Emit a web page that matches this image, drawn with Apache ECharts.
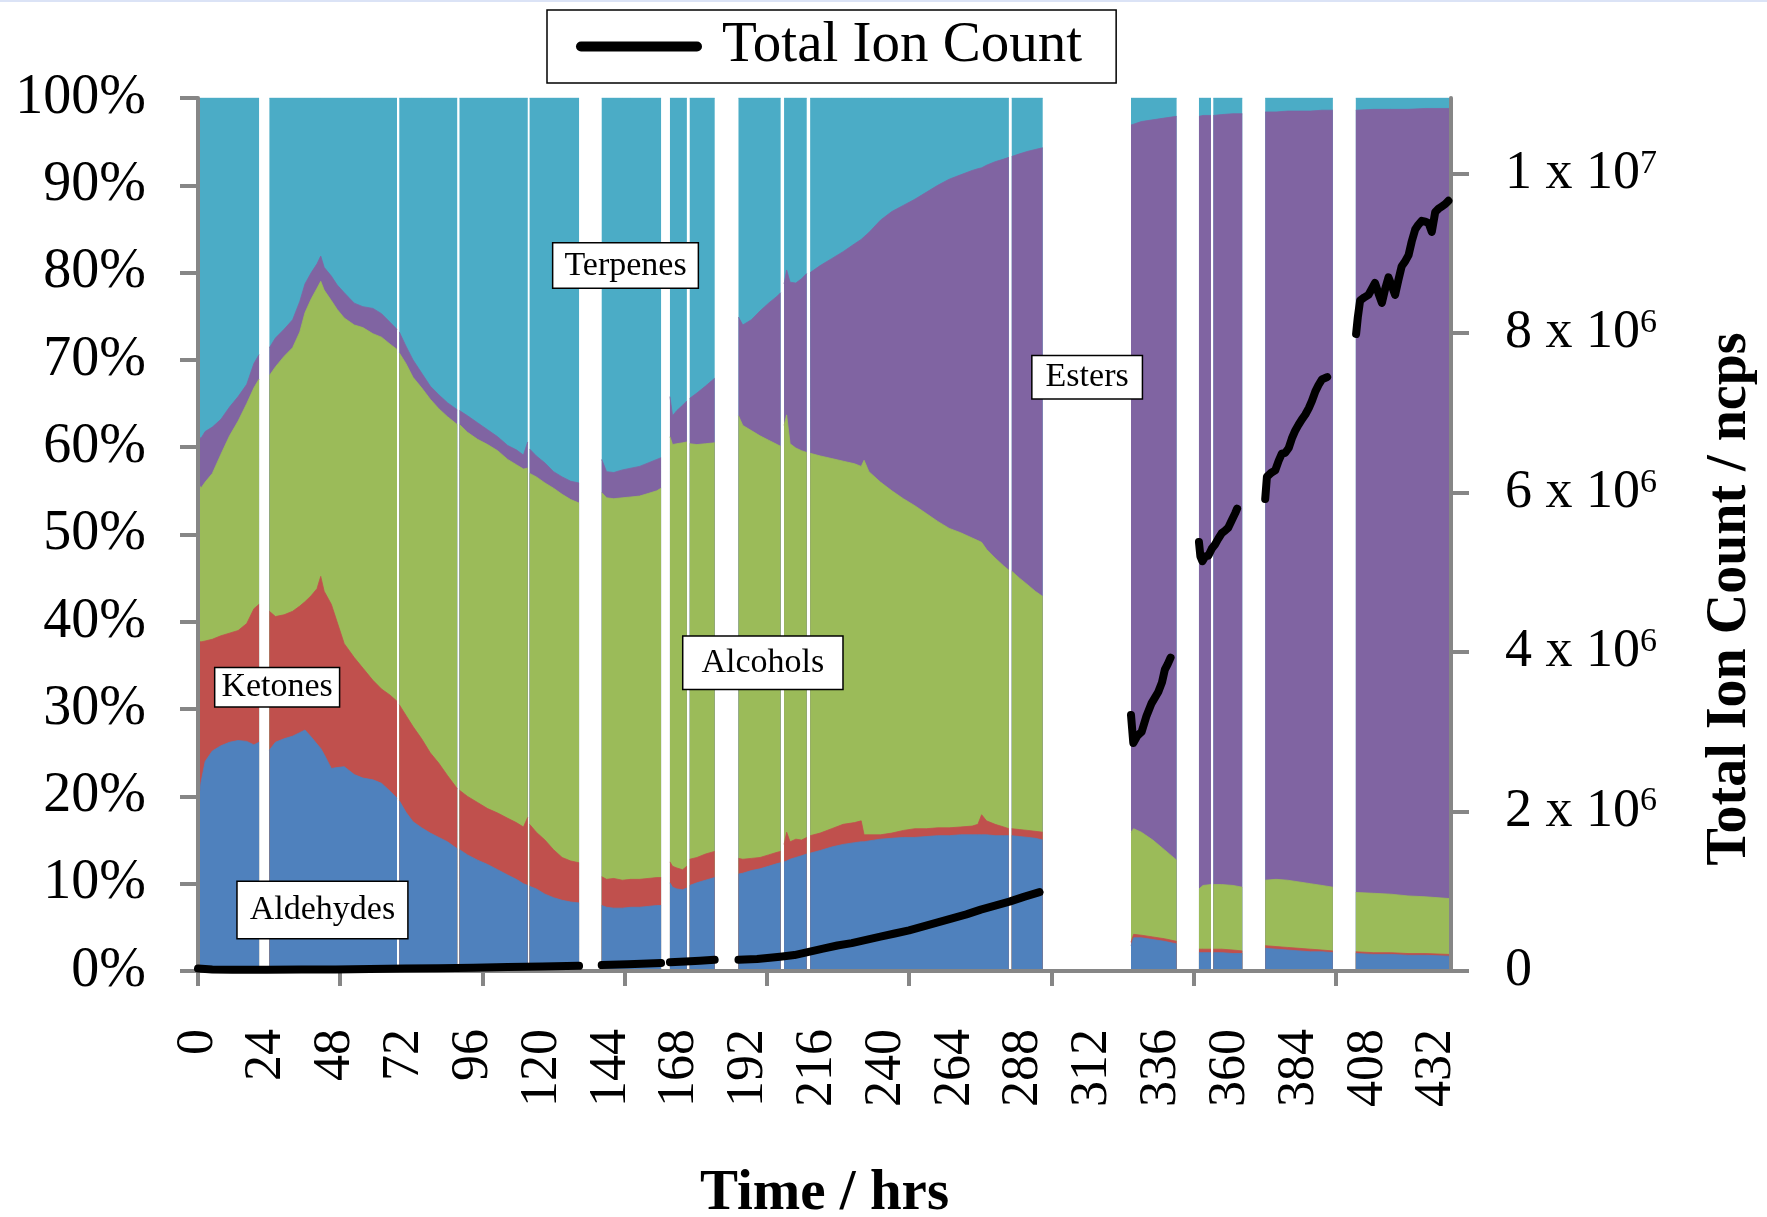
<!DOCTYPE html>
<html>
<head>
<meta charset="utf-8">
<script src="https://cdn.jsdelivr.net/npm/echarts@6/dist/echarts.min.js"></script>
<style>
  html, body { margin: 0; padding: 0; background: #fff; }
  #chart { width: 1767px; height: 1217px; }
</style>
</head>
<body>
<div id="chart"></div>
<script>
// Sampling times (hours). A null entry between two runs marks missing data.
const hours = [
  0, 1, 2.5, 5, 8, 11, 14, 17, 19.5, 21.3, 23.1,
  24.9, 27, 30, 33, 35.5, 37.3, 39.5, 41.5, 42.8, 44, 46.5, 48.5, 51, 54.5, 57.5, 61, 64, 67, 69.4, 69.8,
  70.2, 72.5, 75, 78, 81, 84, 87, 90.4, 90.8,
  91.2, 94, 97.5, 101, 104.5, 108, 111, 113.5, 115, 115.3,
  115.65, 118, 121, 124, 127, 130, 132.9, 137,
  140.8, 142.5, 145, 148, 151, 154, 157, 160, 161.5, 163.1,
  164.6, 165.5, 167, 169, 170.5, 171,
  171.5, 174, 177, 180.2, 184.4,
  188.5, 190, 193, 196, 199, 202, 203.2, 203.8,
  204.4, 205.3, 206.5, 208.5, 210.5, 212.3, 212.9,
  213.5, 217, 221, 225, 229, 231.3, 232.3, 234, 238, 242, 246, 250, 254, 258, 262, 266, 270, 272, 273.3, 275, 278, 281, 282.8, 283.3,
  283.8, 286.5, 289.5, 292, 294.6, 310,
  325.4, 326.3, 329, 333, 337, 341.3, 345,
  349.1, 350.5, 353.3, 353.7,
  354.1, 357, 361, 364.2, 368,
  372.2, 376, 380, 384, 388, 392, 395.8, 400,
  403.8, 410, 416, 422, 428, 436.3
];

// Share of each compound class (% of total), same order as hours.
const aldehydes = [
  18.3, 21.5, 24.0, 25.2, 25.8, 26.2, 26.4, 26.3, 25.9, 26.2, null,
  25.3, 26.2, 26.6, 26.9, 27.3, 27.6, 26.8, 26.0, 25.5, 24.8, 23.2, 23.3, 23.4, 22.5, 22.1, 21.9, 21.5, 20.6, 19.8, null,
  19.5, 18.2, 17.1, 16.4, 15.8, 15.3, 14.8, 14.0, null,
  13.9, 13.3, 12.7, 12.2, 11.6, 11.0, 10.5, 10.0, 9.8, null,
  9.7, 9.4, 8.8, 8.4, 8.1, 7.9, 7.8, null,
  7.5, 7.3, 7.2, 7.2, 7.3, 7.3, 7.4, 7.5, 7.5, null,
  10.1, 9.6, 9.4, 9.3, 9.5, null,
  9.8, 10.1, 10.4, 10.7, null,
  11.1, 11.2, 11.5, 11.7, 12.0, 12.3, 12.4, null,
  12.5, 12.6, 12.8, 13.0, 13.2, 13.4, null,
  13.5, 13.8, 14.2, 14.5, 14.7, 14.8, 14.8, 14.9, 15.1, 15.2, 15.3, 15.3, 15.4, 15.5, 15.5, 15.6, 15.6, 15.6, 15.6, 15.6, 15.5, 15.5, 15.5, null,
  15.5, 15.4, 15.3, 15.2, 15.0, null,
  2.9, 3.8, 3.8, 3.6, 3.4, 3.1, null,
  2.1, 2.1, 2.1, null,
  2.1, 2.1, 2.0, 2.0, null,
  2.6, 2.5, 2.4, 2.3, 2.2, 2.2, 2.1, null,
  2.0, 1.9, 1.9, 1.8, 1.8, 1.7
];
const ketones = [
  19.6, 16.2, 13.8, 12.8, 12.6, 12.5, 12.6, 13.5, 15.6, 15.8, null,
  15.9, 14.4, 14.2, 14.3, 14.5, 14.7, 16.2, 17.8, 19.7, 18.7, 18.8, 16.7, 14.1, 13.4, 12.6, 11.4, 10.8, 11.0, 11.1, null,
  11.0, 11.1, 10.9, 10.2, 9.2, 8.5, 7.6, 6.9, null,
  6.8, 6.7, 6.6, 6.4, 6.5, 6.5, 6.5, 6.5, 7.8, null,
  7.1, 6.5, 6.2, 5.5, 4.9, 4.7, 4.6, null,
  3.3, 3.2, 3.4, 3.2, 3.2, 3.2, 3.2, 3.2, 3.2, null,
  2.4, 2.4, 2.4, 2.3, 2.5, null,
  3.0, 2.9, 3.0, 3.0, null,
  1.8, 1.6, 1.4, 1.3, 1.3, 1.3, 1.3, null,
  2.0, 3.3, 2.0, 2.1, 1.8, 1.9, null,
  2.0, 2.0, 2.1, 2.3, 2.3, 2.4, 0.8, 0.7, 0.5, 0.6, 0.8, 1.0, 0.9, 0.9, 0.9, 0.9, 1.0, 1.2, 2.3, 1.6, 1.3, 1.0, 0.8, null,
  0.8, 0.8, 0.8, 0.8, 0.9, null,
  0.4, 0.4, 0.3, 0.3, 0.3, 0.3, null,
  0.4, 0.4, 0.4, null,
  0.4, 0.4, 0.4, 0.3, null,
  0.3, 0.3, 0.3, 0.3, 0.3, 0.2, 0.2, null,
  0.2, 0.2, 0.2, 0.2, 0.2, 0.2
];
const alcohols = [
  18.1, 17.6, 18.2, 19.0, 20.8, 22.6, 24.0, 25.2, 25.3, 25.8, null,
  27.0, 28.6, 29.6, 30.2, 31.4, 33.1, 34.0, 34.4, 33.8, 34.5, 34.8, 35.8, 37.3, 38.1, 39.0, 39.7, 40.3, 40.2, 40.3, null,
  40.3, 40.3, 40.0, 40.2, 40.5, 40.6, 41.1, 41.7, null,
  41.9, 41.7, 41.6, 41.7, 41.5, 41.1, 41.0, 41.0, 40.0, null,
  40.2, 40.7, 40.9, 41.4, 41.6, 41.4, 41.2, null,
  44.0, 43.7, 43.5, 43.8, 43.8, 43.9, 44.1, 44.3, 44.6, null,
  48.7, 48.3, 48.6, 48.9, 48.6, null,
  47.6, 47.3, 47.0, 46.8, null,
  50.7, 49.7, 49.0, 48.3, 47.5, 46.7, 46.4, null,
  48.0, 47.8, 45.6, 44.8, 44.6, 44.1, null,
  43.8, 43.2, 42.4, 41.6, 41.1, 40.6, 42.9, 41.6, 40.4, 39.2, 38.0, 37.0, 36.1, 35.1, 34.3, 33.7, 33.0, 32.5, 31.2, 31.1, 30.5, 29.9, 29.6, null,
  29.5, 28.8, 28.1, 27.5, 27.0, null,
  12.6, 12.1, 11.8, 11.1, 10.2, 9.3, null,
  6.9, 7.3, 7.4, null,
  7.4, 7.4, 7.4, 7.3, null,
  7.5, 7.7, 7.7, 7.6, 7.5, 7.4, 7.3, null,
  6.8, 6.8, 6.7, 6.6, 6.5, 6.4
];
const esters = [
  5.4, 5.7, 5.8, 5.3, 4.0, 3.3, 2.8, 2.2, 2.8, 2.8, null,
  3.2, 3.3, 3.1, 3.2, 3.5, 3.3, 3.0, 2.8, 2.9, 2.6, 2.8, 2.8, 2.9, 2.5, 2.4, 2.9, 2.7, 2.5, 2.3, null,
  2.4, 2.0, 2.0, 1.7, 1.5, 1.6, 1.6, 1.7, null,
  1.6, 1.9, 1.9, 1.7, 1.6, 1.6, 1.7, 1.6, 3.0, null,
  2.8, 2.4, 2.3, 1.9, 2.0, 2.1, 2.3, null,
  3.8, 3.0, 3.0, 3.2, 3.3, 3.4, 3.5, 3.6, 3.5, null,
  4.6, 3.3, 3.8, 4.3, 4.7, null,
  5.2, 5.9, 6.6, 7.4, null,
  11.3, 11.5, 12.7, 14.3, 15.7, 17.0, 17.6, null,
  16.2, 16.6, 18.5, 18.9, 19.7, 20.5, null,
  20.7, 21.8, 22.9, 24.0, 25.2, 26.0, 25.6, 27.4, 30.0, 32.0, 33.6, 35.1, 36.8, 38.5, 40.0, 41.0, 42.1, 42.6, 42.9, 44.0, 45.4, 46.6, 47.3, null,
  47.5, 48.6, 49.7, 50.6, 51.4, null,
  81.0, 80.7, 81.4, 82.5, 83.8, 85.2, null,
  88.5, 88.2, 88.1, null,
  88.1, 88.2, 88.4, 88.6, null,
  88.0, 87.9, 88.1, 88.3, 88.5, 88.8, 89.0, null,
  89.6, 89.8, 89.9, 90.1, 90.3, 90.5
];
const terpenes = [
  38.6, 39.0, 38.2, 37.7, 36.8, 35.4, 34.2, 32.8, 30.4, 29.4, null,
  28.6, 27.5, 26.5, 25.4, 23.3, 21.3, 20.0, 19.0, 18.1, 19.4, 20.4, 21.4, 22.3, 23.5, 23.9, 24.1, 24.7, 25.7, 26.5, null,
  26.8, 28.4, 30.0, 31.5, 33.0, 34.0, 34.9, 35.7, null,
  35.8, 36.4, 37.2, 38.0, 38.8, 39.8, 40.3, 40.9, 39.4, null,
  40.2, 41.0, 41.8, 42.8, 43.4, 43.9, 44.1, null,
  41.4, 42.8, 42.9, 42.6, 42.4, 42.2, 41.8, 41.4, 41.2, null,
  34.2, 36.4, 35.8, 35.2, 34.7, null,
  34.4, 33.8, 33.0, 32.1, null,
  25.1, 26.0, 25.4, 24.4, 23.5, 22.7, 22.3, null,
  21.3, 19.7, 21.1, 21.2, 20.7, 20.1, null,
  20.0, 19.2, 18.4, 17.6, 16.7, 16.2, 15.9, 15.4, 14.0, 13.0, 12.3, 11.6, 10.8, 10.0, 9.3, 8.8, 8.3, 8.1, 8.0, 7.7, 7.3, 7.0, 6.8, null,
  6.7, 6.4, 6.1, 5.9, 5.7, null,
  3.1, 3.0, 2.7, 2.5, 2.3, 2.1, null,
  2.1, 2.0, 2.0, null,
  2.0, 1.9, 1.8, 1.8, null,
  1.6, 1.6, 1.5, 1.5, 1.5, 1.4, 1.4, null,
  1.4, 1.3, 1.3, 1.3, 1.2, 1.2
];

// Total ion count (ncps) with its own sampling times; null breaks the line.
const ticHours = [
  0, 5, 12, 24, 36, 48, 60, 72, 84, 96, 108, 120, 132.9, 137,
  140.8, 150, 161.5, 163,
  164.6, 170, 175, 180.2, 184,
  188.5, 195, 203, 208, 213, 218, 223, 228, 233, 238, 243, 248, 253, 258, 263, 268, 273, 278, 283, 288, 293.5, 310,
  325.4, 326.2, 327.6, 329.1, 330.8, 332.6, 334.9, 336.2, 337.2, 338.2, 339.2, 345,
  349.1, 349.6, 350.3, 351.3, 352.4, 353.6, 354.7, 355.8, 357.0, 358.1, 359.3, 360.5, 361.7, 362.4, 368,
  372.2, 372.8, 374.3, 375.7, 376.9, 378.0, 379.2, 380.4, 381.5, 382.7, 383.8, 385.0, 386.2, 387.4, 388.5, 389.7, 390.8, 392.0, 393.2, 393.8, 400,
  403.9, 404.5, 405.3, 406.8, 408.2, 409.3, 410.5, 411.7, 412.9, 414.0, 415.2, 416.3, 417.5, 418.6, 419.8, 421.0, 422.2, 423.3, 424.5, 425.6, 426.8, 428.0, 429.2, 430.3, 431.5, 432.6, 433.8, 435.0, 436.1
];
const ticCounts = [
  3.0e4, 2.0e4, 1.5e4, 1.5e4, 2.0e4, 2.0e4, 2.5e4, 3.0e4, 3.5e4, 4.0e4, 5.0e4, 5.5e4, 6.5e4, null,
  7.5e4, 8.5e4, 1.0e5, null,
  1.1e5, 1.2e5, 1.3e5, 1.4e5, null,
  1.4e5, 1.5e5, 1.8e5, 2.0e5, 2.4e5, 2.8e5, 3.2e5, 3.5e5, 3.9e5, 4.3e5, 4.7e5, 5.1e5, 5.6e5, 6.1e5, 6.6e5, 7.1e5, 7.7e5, 8.2e5, 8.7e5, 9.3e5, 9.9e5, null,
  3.21e6, 2.86e6, 2.95e6, 3.0e6, 3.2e6, 3.36e6, 3.5e6, 3.62e6, 3.78e6, 3.85e6, 3.93e6, null,
  5.38e6, 5.2e6, 5.14e6, 5.2e6, 5.21e6, 5.3e6, 5.35e6, 5.42e6, 5.49e6, 5.52e6, 5.56e6, 5.65e6, 5.74e6, 5.8e6, null,
  5.92e6, 6.2e6, 6.25e6, 6.28e6, 6.4e6, 6.49e6, 6.5e6, 6.56e6, 6.68e6, 6.78e6, 6.85e6, 6.92e6, 6.98e6, 7.06e6, 7.15e6, 7.27e6, 7.35e6, 7.42e6, 7.44e6, 7.45e6, null,
  7.99e6, 8.2e6, 8.41e6, 8.45e6, 8.48e6, 8.55e6, 8.63e6, 8.5e6, 8.38e6, 8.55e6, 8.7e6, 8.6e6, 8.48e6, 8.66e6, 8.84e6, 8.9e6, 8.98e6, 9.15e6, 9.3e6, 9.36e6, 9.41e6, 9.4e6, 9.38e6, 9.27e6, 9.52e6, 9.56e6, 9.59e6, 9.62e6, 9.66e6
];

// Axis tick positions and labels
const timeLabels = [0, 24, 48, 72, 96, 120, 144, 168, 192, 216, 240, 264, 288, 312, 336, 360, 384, 408, 432];
const timeTicks = [0, 49.6, 99.2, 148.8, 198.4, 248, 297.6, 347.2, 396.8];
const ticTicks = [0, 2e6, 4e6, 6e6, 8e6, 1e7];

const SERIF = '"Liberation Serif", "Times New Roman", serif';
const GREY = '#868686';

const classes = [
  { name: 'Aldehydes', values: aldehydes, color: '#4F81BD' },
  { name: 'Ketones',   values: ketones,   color: '#C0504D' },
  { name: 'Alcohols',  values: alcohols,  color: '#9BBB59' },
  { name: 'Esters',    values: esters,    color: '#8064A2' },
  { name: 'Terpenes',  values: terpenes,  color: '#4BACC6' }
];

// 100% composition: each class is filled from 0 up to the running total of
// the classes beneath it, and painted from the top class downwards so every
// band shows between its own lower and upper boundary.
const areaSeries = classes.map((c, k) => ({
  name: c.name,
  type: 'line',
  xAxisIndex: 0,
  yAxisIndex: 0,
  data: hours.map((t, i) => {
    if (c.values[i] == null) return [t, '-'];
    let total = 0;
    for (let j = 0; j <= k; j++) total += classes[j].values[i];
    return [t, Math.min(total, 100)];
  }),
  symbol: 'none',
  showSymbol: false,
  connectNulls: false,
  lineStyle: { width: 0.8, color: c.color },
  itemStyle: { color: c.color },
  areaStyle: { color: c.color, opacity: 1, origin: 'start' },
  z: 2,
  silent: true
})).reverse();

const ticSeries = {
  name: 'Total Ion Count',
  type: 'line',
  xAxisIndex: 0,
  yAxisIndex: 1,
  data: ticHours.map((t, i) => [t, ticCounts[i] == null ? '-' : ticCounts[i]]),
  symbol: 'none',
  showSymbol: false,
  connectNulls: false,
  lineStyle: { color: '#000', width: 8, cap: 'round', join: 'round' },
  itemStyle: { color: '#000' },
  z: 10,
  silent: true
};

function ticLabel(v) {
  if (v === 0) return '0';
  if (v >= 1e7) return (v / 1e7) + ' x 10{sup|7}';
  return (v / 1e6) + ' x 10{sup|6}';
}

const chart = echarts.init(document.getElementById('chart'), null, { renderer: 'canvas' });

chart.setOption({
  animation: false,
  backgroundColor: '#fff',
  grid: { left: 198, right: 316, top: 98, bottom: 246, containLabel: false, outerBoundsMode: 'none' },
  legend: {
    data: ['Total Ion Count'],
    left: 547,
    top: 10,
    padding: [8, 34, 8, 29],
    itemWidth: 116,
    itemHeight: 10,
    borderColor: '#000',
    borderWidth: 1.5,
    backgroundColor: '#fff',
    selectedMode: false,
    lineStyle: { width: 10, cap: 'round' },
    textStyle: { fontFamily: SERIF, fontSize: 57, color: '#000', lineHeight: 56, padding: [0, 0, 0, 20] }
  },
  xAxis: {
    type: 'value',
    min: 0,
    max: 437,
    z: 3,
    axisLine: { show: true, onZero: false, lineStyle: { color: GREY, width: 4 } },
    axisTick: { show: true, customValues: timeTicks, length: 15, lineStyle: { color: GREY, width: 4 } },
    axisLabel: { customValues: timeLabels, rotate: 90, margin: 58, fontFamily: SERIF, fontSize: 52, color: '#000' },
    splitLine: { show: false },
    name: 'Time / hrs',
    nameLocation: 'middle',
    nameGap: 195,
    nameTextStyle: { fontFamily: SERIF, fontWeight: 'bold', fontSize: 57, color: '#000' }
  },
  yAxis: [
    {
      type: 'value',
      position: 'left',
      min: 0,
      max: 100,
      interval: 10,
      z: 3,
      axisLine: { show: true, lineStyle: { color: GREY, width: 4 } },
      axisTick: { show: true, length: 18, lineStyle: { color: GREY, width: 4 } },
      axisLabel: { formatter: '{value}%', margin: 52, fontFamily: SERIF, fontSize: 56, color: '#000' },
      splitLine: { show: false }
    },
    {
      type: 'value',
      position: 'right',
      min: 0,
      max: 1.095e7,
      interval: 2e6,
      z: 3,
      axisLine: { show: true, lineStyle: { color: GREY, width: 4 } },
      axisTick: { show: true, customValues: ticTicks, length: 18, lineStyle: { color: GREY, width: 4 } },
      axisLabel: {
        customValues: ticTicks,
        formatter: ticLabel,
        margin: 54,
        fontFamily: SERIF,
        fontSize: 54,
        color: '#000',
        rich: { sup: { fontFamily: SERIF, fontSize: 34, color: '#000', verticalAlign: 'top' } }
      },
      splitLine: { show: false }
    }
  ],
  series: [...areaSeries, ticSeries]
});

// Class name callouts placed in data coordinates (hours, %)
const callouts = [
  { text: 'Terpenes',  at: [149.1, 80.8], pad: [5, 11] },
  { text: 'Esters',    at: [310.1, 68.0], pad: [4, 13] },
  { text: 'Ketones',   at: [27.6, 32.5],  pad: [2, 6] },
  { text: 'Alcohols',  at: [197.0, 35.3], pad: [9, 18] },
  { text: 'Aldehydes', at: [43.4, 7.0],   pad: [11, 12] }
];

const graphics = callouts.map(c => {
  const p = chart.convertToPixel({ xAxisIndex: 0, yAxisIndex: 0 }, c.at);
  return {
    type: 'text',
    x: p[0],
    y: p[1],
    z: 20,
    silent: true,
    style: {
      text: c.text,
      fontFamily: SERIF,
      fontSize: 34,
      lineHeight: 34,
      fill: '#000',
      align: 'center',
      verticalAlign: 'middle',
      textAlign: 'center',
      textVerticalAlign: 'middle',
      backgroundColor: '#fff',
      borderColor: '#000',
      borderWidth: 1.5,
      padding: c.pad
    }
  };
});

graphics.push({
  type: 'text',
  x: 1731,
  y: 599,
  rotation: Math.PI / 2,
  z: 20,
  silent: true,
  style: {
    text: 'Total Ion Count / ncps',
    fontFamily: SERIF,
    fontWeight: 'bold',
    fontSize: 56,
    fill: '#000',
    align: 'center',
    verticalAlign: 'middle',
    textAlign: 'center',
    textVerticalAlign: 'middle'
  }
});

graphics.push({
  type: 'rect',
  z: 20,
  silent: true,
  shape: { x: 0, y: 0, width: 1767, height: 2 },
  style: { fill: '#dbe3f6' }
});

chart.setOption({ graphic: graphics });
</script>
</body>
</html>
